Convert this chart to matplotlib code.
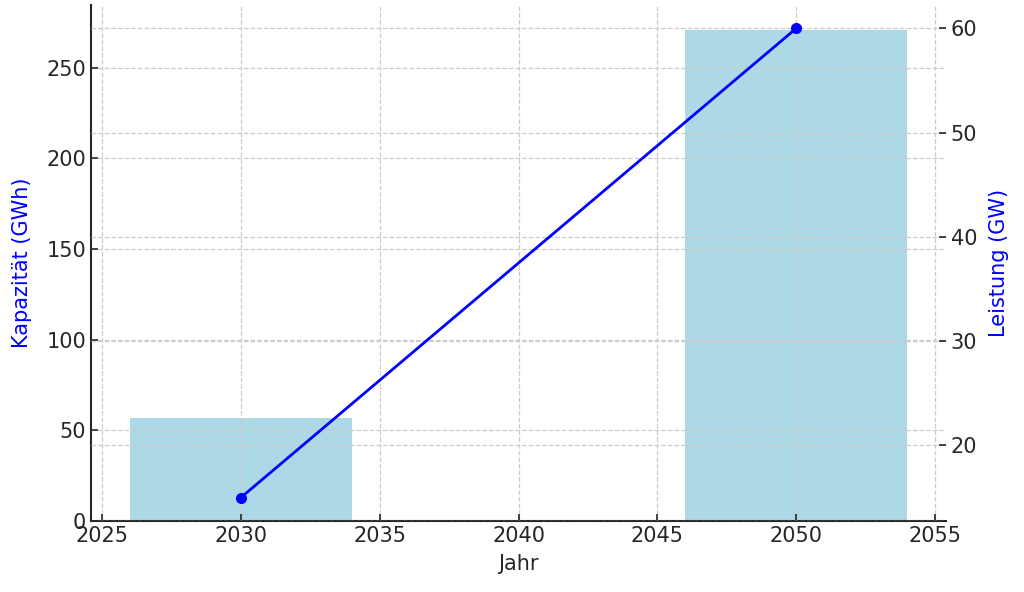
import matplotlib
matplotlib.use("Agg")
import matplotlib.pyplot as plt

years = [2030, 2050]
capacity_gwh = [57, 271]
power_gw = [15, 60]

plt.rcParams['font.family'] = ['DejaVu Sans']
fig = plt.figure(figsize=(10.24, 5.92), dpi=100)
ax1 = fig.add_axes([91/1024, 1-521/592, (946-91)/1024, (521-5)/592])
ax1.bar(years, capacity_gwh, width=8, color='#ADD8E6', zorder=1)
ax1.set_xlabel('Jahr', fontsize=15, color='#262626', labelpad=6)
ax1.set_ylabel('Kapazität (GWh)', fontsize=15, color='blue', labelpad=10)
ax1.set_xticks([2025, 2030, 2035, 2040, 2045, 2050, 2055])
ax1.tick_params(direction='in', labelsize=15, colors='#262626', length=5, width=1.2)
ax1.grid(True, linestyle='--', color='#cccccc', linewidth=0.9)
ax1.set_axisbelow(False)
for s in ['top', 'right']:
    ax1.spines[s].set_visible(False)
for s in ['left', 'bottom']:
    ax1.spines[s].set_color('#262626')
    ax1.spines[s].set_linewidth(1.5)

ax2 = ax1.twinx()
ax2.plot(years, power_gw, color='blue', marker='o', markersize=7, linewidth=2)
ax2.set_ylabel('Leistung (GW)', fontsize=15, color='blue', labelpad=8)
ax2.tick_params(direction='in', labelsize=15, colors='#262626', length=5, width=1.2)
ax2.grid(True, linestyle='--', color='#cccccc', linewidth=0.9)
for s in ['top', 'right', 'left', 'bottom']:
    ax2.spines[s].set_visible(False)

fig.savefig('out.png', dpi=100)
